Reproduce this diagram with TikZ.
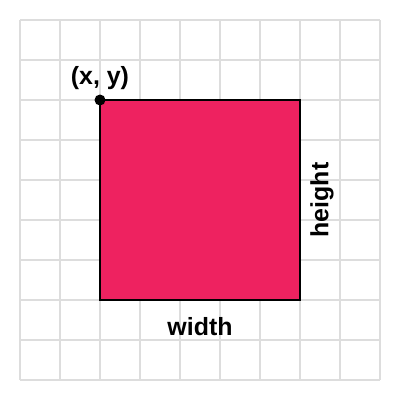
\documentclass[tikz,border=0pt]{standalone}
\usepackage{fontspec}
\setmainfont{Liberation Sans}
\definecolor{rectpink}{HTML}{EE2260}
\definecolor{gridgray}{HTML}{DDDDDD}
\begin{document}
\begin{tikzpicture}[x=1bp,y=-1bp,
  lbl/.style={font=\fontsize{25}{25}\selectfont\bfseries, inner sep=0pt, text=black}]
\useasboundingbox (0,0) rectangle (400,400);
\fill[white] (0,0) rectangle (400,400);
\foreach \i in {20,60,...,380} {
  \draw[gridgray, line width=1.4bp] (\i,20) -- (\i,380);
  \draw[gridgray, line width=1.4bp] (20,\i) -- (380,\i);
}
\draw[fill=rectpink, draw=black, line width=1.5bp] (100,100) rectangle (300,300);
\node[coordinate] (tl) at (100,100) {};
\fill[black] (tl) circle (5.5bp);
\node[lbl] (xy) at (100,78) {(x, y)};
\node[lbl] (w) at (200,327) {width};
\node[lbl, rotate=90] (h) at (322,200) {height};
\end{tikzpicture}
\end{document}
